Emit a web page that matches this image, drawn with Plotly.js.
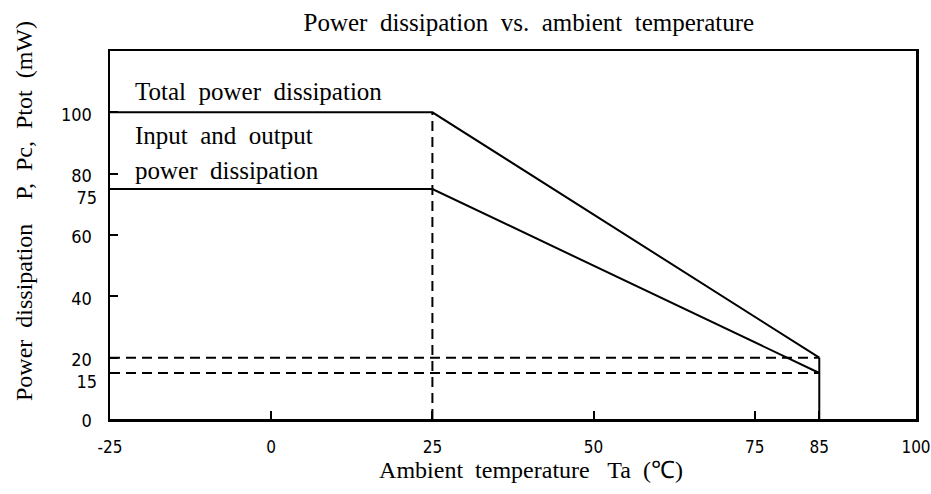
<!DOCTYPE html>
<html>
<head>
<meta charset="utf-8">
<script src="https://cdn.plot.ly/plotly-3.0.1.min.js"></script>
<style>html,body{margin:0;padding:0;background:#fff;}</style>
</head>
<body>
<div id="chart" style="width:931px;height:494px;"></div>
<script>
// Data
const tempC = [-25, 25, 85];            // ambient temperature breakpoints (°C)
const totalPower = [100, 100, 20];      // total power dissipation Ptot (mW)
const ioPower = [75, 75, 15];           // input and output power dissipation (mW)
const xTickVals = [-25, 0, 25, 50, 75, 85, 100];
const xTickText = ['-25', '0', '25', '50', '75', '85', '100'];
const yTickVals = [0, 20, 40, 60, 80, 100];
const yTickText = ['0', '20', '40', '60', '80', '100'];
const y2TickVals = [15, 75];
const y2TickText = ['15', '75'];

const kneeT = tempC[1], endT = tempC[2], startT = tempC[0];
const black = '#000';
const serif = 'Liberation Serif, Times New Roman, serif';
const tickFont = 'DejaVu Sans Condensed, Liberation Sans Narrow, Liberation Sans, sans-serif';

const traces = [
  {x: [kneeT, kneeT], y: [0, totalPower[1]], mode: 'lines',
   line: {color: black, width: 2, dash: '10px,6px'}, hoverinfo: 'skip'},
  {x: [startT, endT], y: [totalPower[2], totalPower[2]], mode: 'lines',
   line: {color: black, width: 2, dash: '10px,6px'}, hoverinfo: 'skip'},
  {x: [startT, endT], y: [ioPower[2], ioPower[2]], mode: 'lines', yaxis: 'y2',
   line: {color: black, width: 2, dash: '10px,6px'}, hoverinfo: 'skip'},
  {x: [endT, endT], y: [0, totalPower[2]], mode: 'lines',
   line: {color: black, width: 2}, hoverinfo: 'skip'},
  {x: tempC, y: totalPower, mode: 'lines', name: 'Total power dissipation',
   line: {color: black, width: 2}},
  {x: tempC, y: ioPower, mode: 'lines', name: 'Input and output power dissipation', yaxis: 'y2',
   line: {color: black, width: 2}}
];

const yCommon = {
  range: [0, 120], tickmode: 'array',
  ticks: 'inside', ticklen: 8, tickwidth: 2, tickcolor: black,
  showgrid: false, zeroline: false,
  tickfont: {family: tickFont, size: 18, color: black},
  ticklabelstandoff: 12
};

const layout = {
  width: 931, height: 494,
  margin: {l: 110, r: 15, t: 51, b: 75},
  paper_bgcolor: '#fff', plot_bgcolor: '#fff',
  showlegend: false,
  title: {text: 'Power&nbsp; dissipation&nbsp; vs.&nbsp; ambient&nbsp; temperature',
          font: {family: serif, size: 25, color: black},
          x: 0.568, xanchor: 'center', y: 0.955, yanchor: 'middle'},
  xaxis: {
    range: [-25, 100], tickmode: 'array', tickvals: xTickVals, ticktext: xTickText,
    ticks: 'inside', ticklen: 8, tickwidth: 2, tickcolor: black,
    showline: true, linewidth: 2.5, linecolor: black, mirror: true,
    showgrid: false, zeroline: false,
    tickfont: {family: tickFont, size: 17, color: black},
    ticklabelstandoff: 11,
    title: {text: '&nbsp;&nbsp;&nbsp;&nbsp;&nbsp;&nbsp;Ambient&nbsp; temperature&nbsp;&nbsp; Ta&nbsp; (℃)',
            font: {family: serif, size: 24, color: black}, standoff: 4}
  },
  yaxis: Object.assign({}, yCommon, {
    tickvals: yTickVals, ticktext: yTickText,
    showline: true, linewidth: 2.5, linecolor: black, mirror: true,
    ticklabelshift: 2,
    title: {text: '&nbsp;&nbsp;&nbsp;&nbsp;&nbsp;&nbsp;&nbsp;&nbsp;Power&nbsp; dissipation&nbsp;&nbsp;&nbsp; P,&nbsp; Pc,&nbsp; Ptot&nbsp; (mW)',
            font: {family: serif, size: 24, color: black}, standoff: 22}
  }),
  yaxis2: Object.assign({}, yCommon, {
    tickvals: y2TickVals, ticktext: y2TickText,
    overlaying: 'y', side: 'left', showline: false,
    ticklabelshift: 9
  }),
  annotations: [
    {x: -21.4, y: 106.8, xref: 'x', yref: 'y', xanchor: 'left', yanchor: 'middle',
     text: 'Total&nbsp; power&nbsp; dissipation', showarrow: false,
     font: {family: serif, size: 25, color: black}},
    {x: -21.4, y: 92.5, xref: 'x', yref: 'y', xanchor: 'left', yanchor: 'middle',
     text: 'Input&nbsp; and&nbsp; output', showarrow: false,
     font: {family: serif, size: 25, color: black}},
    {x: -21.4, y: 81.1, xref: 'x', yref: 'y', xanchor: 'left', yanchor: 'middle',
     text: 'power&nbsp; dissipation', showarrow: false,
     font: {family: serif, size: 25, color: black}}
  ]
};

Plotly.newPlot('chart', traces, layout, {displayModeBar: false, staticPlot: true});
</script>
</body>
</html>
